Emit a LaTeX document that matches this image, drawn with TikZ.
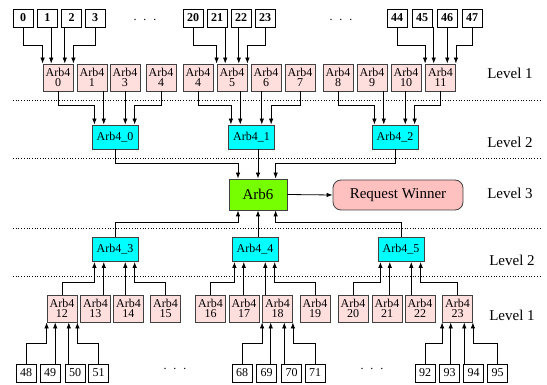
\documentclass[tikz,border=0pt]{standalone}
\usepackage{fontspec}
\setmainfont{Liberation Serif}
\usepackage{tikz}
\usetikzlibrary{arrows.meta,positioning,calc}

\definecolor{leafpink}{RGB}{255,222,222}
\definecolor{midcyan}{RGB}{0,255,255}
\definecolor{rootgreen}{RGB}{118,255,0}
\definecolor{winpink}{RGB}{255,192,192}
\definecolor{edgegray}{RGB}{64,64,64}

\begin{document}
\begin{tikzpicture}[x=1pt,y=-1pt,
    inbox/.style={draw=black,line width=0.8pt,minimum width=20pt,minimum height=18pt,
        inner sep=0pt,font=\fontsize{12}{14}\selectfont},
    leafbox/.style={draw=edgegray,fill=leafpink,line width=0.8pt,minimum width=30pt,
        minimum height=27pt,inner sep=0pt,align=center,font=\fontsize{12}{10.5}\selectfont},
    midbox/.style={draw=edgegray,fill=midcyan,line width=0.8pt,minimum width=46pt,
        minimum height=24pt,inner sep=0pt,font=\fontsize{12}{14}\selectfont},
    rootbox/.style={draw=edgegray,fill=rootgreen,line width=0.8pt,minimum width=58pt,
        minimum height=31pt,inner sep=0pt,font=\fontsize{15}{18}\selectfont},
    winbox/.style={draw=edgegray,fill=winpink,line width=0.8pt,rounded corners=8pt,
        minimum width=130pt,minimum height=30pt,inner sep=0pt,font=\fontsize{15}{18}\selectfont},
    lvl/.style={font=\fontsize{15}{18}\selectfont,inner sep=0pt},
    gap/.style={font=\fontsize{12}{14}\selectfont,inner sep=0pt,anchor=base},
    conn/.style={-{Latex[length=6pt,width=4.5pt]},draw=black,line width=0.8pt},
    sep/.style={draw=black,dotted,line width=0.7pt}
]
\useasboundingbox (0,0) rectangle (547,385);
% level separators
\draw[sep] (13,100) -- (541,100);
\draw[sep] (13,158) -- (541,158);
\draw[sep] (13,228) -- (541,228);
\draw[sep] (13,276) -- (541,276);
% inputs
\foreach \nm/\x in {0/23,1/47.5,2/71.5,3/95,20/193,21/217,22/241,23/265,44/397,45/422,46/447,47/472}
    \node[inbox,font=\fontsize{12}{14}\selectfont\bfseries] (in\nm) at (\x,18) {\nm};
\foreach \nm/\x in {48/26,49/50,50/75,51/98.5,68/242,69/266.5,70/291.5,71/315,92/425,93/449.5,94/473.5,95/497.5}
    \node[inbox] (in\nm) at (\x,373) {\nm};
\node[gap] (gapa) at (145,21) {.\hspace{7pt}.\hspace{7pt}.};
\node[gap] (gapb) at (341,21) {.\hspace{7pt}.\hspace{7pt}.};
\node[gap] (gapc) at (175,369) {.\hspace{7pt}.\hspace{7pt}.};
\node[gap] (gapd) at (372,369) {.\hspace{7pt}.\hspace{7pt}.};
% level 1 arbiters
\foreach \i/\lab/\x in {0/0/58,1/1/92,2/3/125,3/4/161,4/4/198,5/5/232,6/6/266,7/7/300,8/8/338,9/9/372,10/10/406,11/11/440.5}
    \node[leafbox] (lf\i) at (\x,77.5) {Arb4\\\lab};
\foreach \i/\x in {12/62,13/95.5,14/128.5,15/165.5,16/210.5,17/244,18/277.5,19/315,20/353,21/387,22/420,23/457.5}
    \node[leafbox] (lf\i) at (\x,308.5) {Arb4\\\i};
% level 2 arbiters
\node[midbox] (md0) at (115,137) {Arb4\_0};
\node[midbox] (md1) at (251.5,137) {Arb4\_1};
\node[midbox] (md2) at (395,137) {Arb4\_2};
\node[midbox] (md3) at (115,249.5) {Arb4\_3};
\node[midbox] (md4) at (255,249.5) {Arb4\_4};
\node[midbox] (md5) at (401,249.5) {Arb4\_5};
% level 3
\node[rootbox] (root) at (258,194.5) {Arb6};
\node[winbox] (winner) at (398,195) {Request Winner};
\node[lvl] (lv1a) at (510,73) {Level 1};
\node[lvl] (lv2a) at (510,142) {Level 2};
\node[lvl] (lv3) at (510,193) {Level 3};
\node[lvl] (lv2b) at (512,260) {Level 2};
\node[lvl] (lv1b) at (512,315) {Level 1};
% arrow landing points
\foreach \t in {0,5,11}
    \foreach \k/\f in {1/0,2/0.28,3/0.72,4/1}
        \coordinate (lf\t-\k) at ($(lf\t.north west)!\f!(lf\t.north east)$);
\foreach \t in {12,18,23}
    \foreach \k/\f in {1/0,2/0.28,3/0.72,4/1}
        \coordinate (lf\t-\k) at ($(lf\t.south west)!\f!(lf\t.south east)$);
\foreach \m in {0,1,2}
    \foreach \k/\f in {1/0.06,2/0.26,3/0.72,4/0.92}
        \coordinate (md\m-\k) at ($(md\m.north west)!\f!(md\m.north east)$);
\foreach \m in {3,4,5}
    \foreach \k/\f in {1/0.06,2/0.26,3/0.72,4/0.92}
        \coordinate (md\m-\k) at ($(md\m.south west)!\f!(md\m.south east)$);
\foreach \k/\f in {1/0.16,2/0.5,3/0.8} {
    \coordinate (rt-\k) at ($(root.north west)!\f!(root.north east)$);
    \coordinate (rb-\k) at ($(root.south west)!\f!(root.south east)$);
}
% inputs to level 1
\foreach \a/\b/\c/\d/\t in {0/1/2/3/0,20/21/22/23/5,44/45/46/47/11} {
    \draw[conn] (in\a.south) -- ++(0,18) -| (lf\t-1);
    \draw[conn] (in\b.south -| lf\t-2) -- (lf\t-2);
    \draw[conn] (in\c.south -| lf\t-3) -- (lf\t-3);
    \draw[conn] (in\d.south) -- ++(0,18) -| (lf\t-4);
}
\foreach \a/\b/\c/\d/\t in {48/49/50/51/12,68/69/70/71/18,92/93/94/95/23} {
    \draw[conn] (in\a.north) -- ++(0,-20) -| (lf\t-1);
    \draw[conn] (in\b.north -| lf\t-2) -- (lf\t-2);
    \draw[conn] (in\c.north -| lf\t-3) -- (lf\t-3);
    \draw[conn] (in\d.north) -- ++(0,-20) -| (lf\t-4);
}
% level 1 to level 2
\foreach \a/\b/\c/\d/\m in {0/1/2/3/0,4/5/6/7/1,8/9/10/11/2} {
    \draw[conn] (lf\a.south) -- ++(0,14) -| (md\m-1);
    \draw[conn] (lf\b.south -| md\m-2) -- (md\m-2);
    \draw[conn] (lf\c.south -| md\m-3) -- (md\m-3);
    \draw[conn] (lf\d.south) -- ++(0,14) -| (md\m-4);
}
\foreach \a/\b/\c/\d/\m in {12/13/14/15/3,16/17/18/19/4,20/21/22/23/5} {
    \draw[conn] (lf\a.north) -- ++(0,-12) -| (md\m-1);
    \draw[conn] (lf\b.north -| md\m-2) -- (md\m-2);
    \draw[conn] (lf\c.north -| md\m-3) -- (md\m-3);
    \draw[conn] (lf\d.north) -- ++(0,-12) -| (md\m-4);
}
% level 2 to level 3
\draw[conn] (md0.south) -- ++(0,14) -| (rt-1);
\draw[conn] (md1.south -| rt-2) -- (rt-2);
\draw[conn] (md2.south) -- ++(0,14) -| (rt-3);
\draw[conn] (md3.north) -- ++(0,-15) -| (rb-1);
\draw[conn] (md4.north -| rb-2) -- (rb-2);
\draw[conn] (md5.north) -- ++(0,-15) -| (rb-3);
\draw[conn] (root.east) -- (winner.west);
\end{tikzpicture}
\end{document}
